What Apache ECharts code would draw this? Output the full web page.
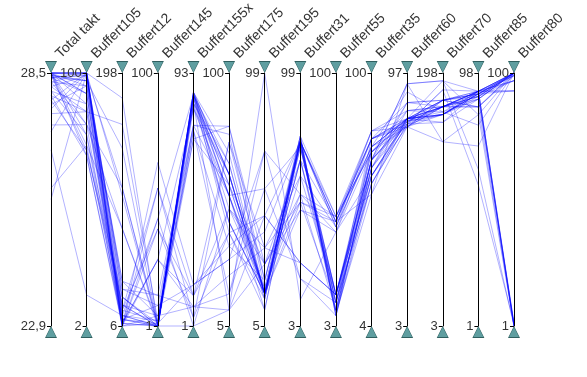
<!DOCTYPE html>
<html><head><meta charset="utf-8">
<script src="https://cdn.jsdelivr.net/npm/echarts@6/dist/echarts.min.js"></script>
<style>html,body{margin:0;padding:0;background:#fff}#c{width:587px;height:377px}</style>
</head><body><div id="c"></div>
<script>
const dims = ['Total takt','Buffert105','Buffert12','Buffert145','Buffert155x','Buffert175','Buffert195','Buffert31','Buffert55','Buffert35','Buffert60','Buffert70','Buffert85','Buffert80'];
const axisMin = [22.9, 2, 6, 1, 1, 5, 5, 3, 3, 4, 3, 3, 1, 1];
const axisMax = [28.5, 100, 198, 100, 93, 100, 99, 99, 100, 100, 97, 198, 98, 100];
const lines = [
  [28.5, 100, 6, 2, 86, 62, 17, 73, 43, 75, 80, 172, 91, 100],
  [28.4, 99, 8, 1, 85, 54, 15, 71, 12, 67, 78, 166, 90, 99],
  [28.5, 72, 11, 1, 84, 49, 19, 75, 7, 61, 79, 172, 89, 1],
  [28.3, 95, 14, 3, 82, 44, 17, 66, 9, 72, 77, 177, 90, 100],
  [28.45, 97, 40, 13, 74, 80, 22, 73, 41, 78, 83, 168, 91, 97],
  [28.2, 85, 18, 55, 12, 74, 34, 60, 15, 64, 86, 177, 85, 100],
  [28.5, 100, 22, 5, 69, 58, 28, 53, 45, 70, 80, 160, 88, 2],
  [27.9, 70, 28, 1, 86, 54, 17, 50, 12, 58, 78, 172, 90, 100],
  [28.5, 92, 6, 39, 4, 40, 11, 73, 8, 54, 77, 145, 82, 1],
  [27.7, 100, 34, 9, 16, 30, 40, 73, 43, 72, 80, 172, 91, 93],
  [28.5, 68, 8, 27, 8, 11, 46, 27, 15, 67, 93, 192, 91, 100],
  [28.1, 88, 11, 1, 85, 66, 17, 47, 39, 75, 79, 166, 89, 97],
  [25.7, 100, 105, 1, 80, 54, 56, 71, 15, 61, 80, 172, 91, 1],
  [25.95, 72, 80, 2, 72, 17, 70, 21, 7, 67, 86, 177, 85, 100],
  [26.8, 14, 14, 43, 1, 49, 28, 66, 43, 75, 78, 185, 91, 100],
  [28.5, 100, 179, 1, 86, 62, 17, 73, 12, 70, 80, 166, 90, 93],
  [28.0, 85, 159, 3, 74, 77, 19, 53, 9, 64, 83, 172, 88, 100],
  [28.4, 97, 141, 1, 84, 40, 15, 75, 45, 78, 77, 177, 91, 2],
  [27.35, 80, 111, 2, 82, 11, 99, 13, 39, 61, 80, 168, 78, 100],
  [28.5, 76, 6, 65, 16, 35, 46, 73, 41, 72, 80, 166, 91, 99],
  [28.2, 99, 18, 39, 12, 49, 34, 27, 15, 70, 77, 172, 85, 1],
  [28.5, 95, 40, 5, 85, 62, 17, 73, 7, 67, 80, 177, 90, 100],
  [27.6, 85, 8, 1, 69, 80, 28, 50, 43, 54, 93, 145, 70, 100],
  [28.45, 70, 22, 1, 86, 44, 17, 71, 15, 67, 79, 172, 91, 2],
  [28.4, 100, 34, 13, 8, 17, 56, 21, 12, 58, 80, 166, 88, 100],
  [28.5, 92, 11, 9, 74, 54, 11, 73, 43, 75, 86, 172, 89, 100],
  [27.9, 100, 14, 1, 82, 66, 17, 66, 15, 72, 80, 177, 90, 97],
  [28.5, 88, 6, 55, 4, 74, 22, 75, 9, 64, 78, 160, 91, 1],
  [28.3, 80, 80, 1, 85, 58, 17, 73, 45, 75, 80, 166, 91, 100],
  [28.5, 100, 28, 2, 16, 30, 70, 53, 39, 70, 83, 172, 85, 99],
  [28.0, 68, 6, 27, 80, 62, 17, 73, 15, 61, 77, 172, 89, 100],
  [28.5, 99, 111, 1, 1, 11, 28, 47, 43, 78, 80, 177, 91, 93],
  [28.45, 97, 18, 3, 84, 54, 19, 71, 12, 61, 79, 166, 90, 1],
  [27.2, 100, 8, 27, 12, 40, 46, 27, 15, 67, 93, 192, 82, 100],
  [28.5, 100, 6, 43, 85, 58, 17, 73, 15, 67, 80, 192, 61, 1],
  [28.4, 92, 14, 1, 82, 62, 15, 75, 7, 58, 78, 185, 55, 2],
  [28.1, 76, 22, 1, 86, 70, 17, 60, 41, 72, 90, 168, 88, 100],
  [27.8, 95, 11, 2, 72, 35, 22, 73, 9, 64, 80, 172, 91, 97],
  [28.5, 80, 6, 5, 8, 24, 34, 50, 45, 70, 79, 177, 89, 100],
  [28.3, 100, 28, 1, 85, 44, 17, 66, 12, 75, 77, 166, 90, 99]
];

const layout = {left: 51, right: 73, top: 73, bottom: 51};
const tri = 'path://M0,0L10,0L5,10Z';
const font = 'Liberation Sans, Arial, sans-serif';

const axes = [];
dims.forEach((d, i) => {
  axes.push({
    dim: i, parallelIndex: 0, name: d, type: 'value',
    min: axisMin[i], max: axisMax[i],
    nameLocation: 'end', nameGap: 10, nameRotate: 45,
    nameTruncate: {maxWidth: 400, ellipsis: ''},
    nameTextStyle: {color: '#333', fontSize: 14, fontFamily: font, align: 'left', verticalAlign: 'middle', padding: [0, 0, 0, 10], overflow: 'none'},
    axisLine: {show: true, lineStyle: {color: '#000', width: 1}},
    axisTick: {show: true, length: -4, lineStyle: {color: '#000'}, customValues: [axisMin[i], axisMax[i]]},
    axisLabel: {show: true, color: '#333', fontSize: 13, margin: -5, align: 'right', fontFamily: font,
      customValues: [axisMin[i], axisMax[i]],
      formatter: v => i === 0 ? String(v).replace('.', ',') : String(v)},
    splitLine: {show: false}
  });
});
dims.forEach((d, i) => {
  axes.push({
    dim: i, parallelIndex: 1, name: '', type: 'value', min: axisMin[i], max: axisMax[i],
    axisLine: {show: true, symbol: [tri, tri], symbolSize: [12, 12], symbolOffset: [-6, 6], lineStyle: {color: '#2f5f5f', width: 0}},
    axisTick: {show: false}, axisLabel: {show: false}, splitLine: {show: false}
  });
});
dims.forEach((d, i) => {
  axes.push({
    dim: i, parallelIndex: 2, name: '', type: 'value', min: axisMin[i], max: axisMax[i],
    axisLine: {show: true, symbol: [tri, tri], symbolSize: [10, 10], symbolOffset: [-6, 6], lineStyle: {color: '#5f9ea0', width: 0}},
    axisTick: {show: false}, axisLabel: {show: false}, splitLine: {show: false}
  });
});

const chart = echarts.init(document.getElementById('c'), null, {renderer: 'canvas'});
chart.setOption({
  animation: false,
  backgroundColor: '#fff',
  parallel: [Object.assign({}, layout), Object.assign({}, layout), Object.assign({}, layout)],
  parallelAxis: axes,
  series: [{
    type: 'parallel', parallelIndex: 0,
    lineStyle: {color: '#0000ff', width: 1, opacity: 0.3},
    data: lines
  }]
});
</script></body></html>
